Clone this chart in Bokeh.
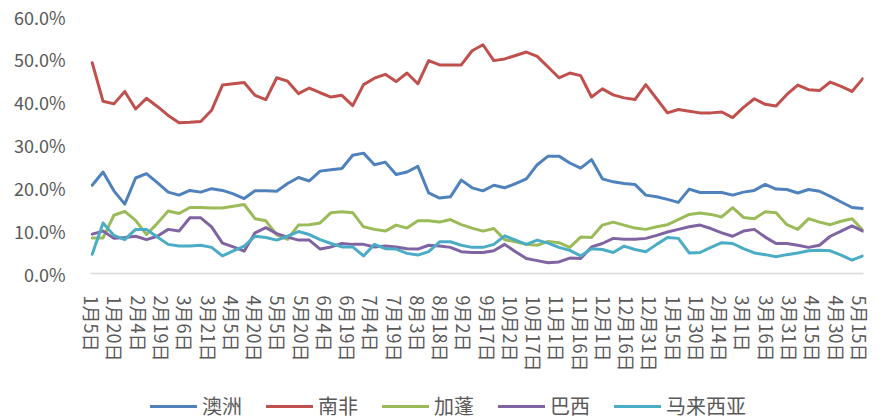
import pandas as pd
from bokeh.plotting import figure
from bokeh.layouts import column
from bokeh.models import Range1d, FixedTicker, Legend, LegendItem
from bokeh.embed import file_html
from bokeh.resources import INLINE

# ---------------- data ----------------
start_date = "2018-01-05"
n_points = 72          # weekly observations
tick_step_days = 15

tick_labels = ["1月5日", "1月20日", "2月4日", "2月19日", "3月6日", "3月21日", "4月5日",
               "4月20日", "5月5日", "5月20日", "6月4日", "6月19日", "7月4日", "7月19日",
               "8月3日", "8月18日", "9月2日", "9月17日", "10月2日", "10月17日", "11月1日",
               "11月16日", "12月1日", "12月16日", "12月31日", "1月15日", "1月30日",
               "2月14日", "3月1日", "3月16日", "3月31日", "4月15日", "4月30日", "5月15日"]

y_ticks = [0, 10, 20, 30, 40, 50, 60]
y_tick_labels = ["0.0%", "10.0%", "20.0%", "30.0%", "40.0%", "50.0%", "60.0%"]

names = ["澳洲", "南非", "加蓬", "巴西", "马来西亚"]
colors = ["#4F81BD", "#C0504D", "#9BBB59", "#8064A2", "#4BACC6"]

australia = [20.6, 23.7, 19.3, 16.2, 22.3, 23.3, 21.2, 19.0, 18.3, 19.4, 19.0, 19.8,
             19.4, 18.6, 17.5, 19.3, 19.3, 19.2, 21.0, 22.4, 21.6, 23.9, 24.2, 24.5,
             27.6, 28.1, 25.4, 26.0, 23.1, 23.7, 25.0, 18.8, 17.6, 17.9, 21.8, 20.0,
             19.3, 20.6, 20.0, 21.0, 22.1, 25.4, 27.4, 27.4, 25.8, 24.6, 26.6, 22.1,
             21.4, 21.0, 20.8, 18.3, 17.9, 17.3, 16.6, 19.7, 18.9, 18.9, 18.9, 18.3,
             19.0, 19.4, 20.8, 19.7, 19.6, 18.8, 19.6, 19.2, 18.0, 16.7, 15.4, 15.2]

south_africa = [49.2, 40.2, 39.6, 42.5, 38.4, 40.9, 39.0, 36.9, 35.2, 35.3, 35.5, 38.1,
                44.0, 44.3, 44.6, 41.6, 40.6, 45.7, 44.9, 42.0, 43.3, 42.2, 41.2, 41.6,
                39.2, 44.1, 45.6, 46.5, 44.8, 46.8, 44.3, 49.7, 48.7, 48.7, 48.7, 52.0,
                53.4, 49.7, 50.1, 50.9, 51.7, 50.7, 48.2, 45.7, 46.8, 46.2, 41.2, 43.1,
                41.7, 41.0, 40.6, 44.1, 40.8, 37.5, 38.3, 37.9, 37.5, 37.5, 37.7, 36.4,
                38.8, 40.8, 39.5, 39.1, 41.8, 44.0, 42.9, 42.7, 44.7, 43.7, 42.5, 45.5]

gabon = [8.3, 8.3, 13.6, 14.5, 12.4, 9.1, 11.7, 14.6, 14.0, 15.4, 15.4, 15.3,
         15.3, 15.7, 16.1, 12.8, 12.3, 9.0, 8.0, 11.3, 11.4, 11.8, 14.2, 14.4,
         14.2, 10.9, 10.3, 9.9, 11.3, 10.6, 12.3, 12.3, 12.0, 12.6, 11.4, 10.6,
         9.9, 10.5, 7.9, 7.4, 6.8, 6.6, 7.5, 7.2, 6.1, 8.5, 8.4, 11.3,
         12.0, 11.3, 10.6, 10.3, 10.9, 11.4, 12.6, 13.8, 14.1, 13.8, 13.2, 15.4,
         13.1, 12.8, 14.4, 14.2, 11.4, 10.3, 12.8, 12.0, 11.4, 12.2, 12.8, 10.1]

brazil = [9.2, 9.9, 8.2, 8.4, 8.7, 7.9, 8.7, 10.3, 9.9, 13.0, 13.0, 10.9,
          7.1, 6.2, 5.2, 9.5, 10.7, 9.3, 8.5, 7.8, 7.8, 5.7, 6.2, 7.0,
          6.8, 6.8, 6.2, 6.4, 6.2, 5.8, 5.7, 6.6, 6.4, 6.1, 5.1, 4.9,
          4.9, 5.3, 6.8, 5.1, 3.5, 3.0, 2.5, 2.7, 3.6, 3.5, 6.2, 7.0,
          8.2, 8.0, 8.0, 8.2, 8.9, 9.7, 10.3, 10.9, 11.3, 10.5, 9.5, 8.7,
          9.9, 10.3, 8.5, 7.0, 7.0, 6.6, 6.1, 6.6, 8.7, 9.9, 11.1, 9.9]

malaysia = [4.5, 11.8, 8.9, 7.9, 10.3, 10.3, 8.5, 6.8, 6.4, 6.4, 6.6, 6.1,
            4.1, 5.3, 6.4, 8.7, 8.4, 7.8, 8.7, 9.8, 9.1, 7.9, 7.0, 6.2,
            6.2, 4.1, 6.8, 5.8, 5.7, 4.7, 4.3, 5.1, 7.4, 7.4, 6.6, 6.1,
            6.1, 6.8, 8.8, 7.8, 6.8, 7.8, 7.1, 6.1, 5.4, 4.1, 5.8, 5.6,
            4.9, 6.4, 5.6, 5.1, 6.8, 8.4, 8.2, 4.8, 4.9, 6.1, 7.2, 7.0,
            5.8, 4.8, 4.4, 3.9, 4.4, 4.8, 5.3, 5.4, 5.3, 4.3, 3.1, 4.1]

series = [australia, south_africa, gabon, brazil, malaysia]

# ---------------- x positions (days since first observation) ----------------
t0 = pd.Timestamp(start_date)
dates = pd.date_range(start_date, periods=n_points, freq="7D")
x_days = [int((d - t0).days) for d in dates]
tick_dates = pd.date_range(start_date, periods=len(tick_labels), freq=f"{tick_step_days}D")
tick_days = [int((d - t0).days) for d in tick_dates]

FONT = "Noto Sans CJK SC"
TXT = "#595959"

# ---------------- main chart ----------------
p = figure(width=886, height=392, output_backend="svg", toolbar_location=None,
           x_range=Range1d(x_days[0] - 1.1, x_days[-1] + 0.4),
           y_range=Range1d(0, 60),
           min_border_left=90, min_border_right=23, min_border_top=16, min_border_bottom=119)
p.outline_line_color = None
p.background_fill_color = "white"
p.border_fill_color = "white"
p.xgrid.visible = False
p.ygrid.visible = False

for vals, c in zip(series, colors):
    p.line(x_days, vals, line_width=3, color=c, line_join="round", line_cap="round")

# x axis
xa = p.xaxis[0]
xa.ticker = FixedTicker(ticks=tick_days)
xa.major_label_overrides = {d: lab for d, lab in zip(tick_days, tick_labels)}
xa.major_label_orientation = "vertical"
xa.major_label_text_font = FONT
xa.major_label_text_font_size = "18px"
xa.major_label_text_color = TXT
xa.major_label_standoff = 16
xa.major_tick_line_color = None
xa.minor_tick_line_color = None
xa.axis_line_color = "#D9D9D9"
xa.axis_line_width = 1.5

# y axis
ya = p.yaxis[0]
ya.ticker = FixedTicker(ticks=y_ticks)
ya.major_label_overrides = {t: lab for t, lab in zip(y_ticks, y_tick_labels)}
ya.major_label_text_font = FONT
ya.major_label_text_font_size = "18px"
ya.major_label_text_color = TXT
ya.major_label_standoff = 19
ya.major_tick_line_color = None
ya.minor_tick_line_color = None
ya.axis_line_color = None

# ---------------- legend strip ----------------
q = figure(width=886, height=28, output_backend="svg", toolbar_location=None,
           x_range=Range1d(0, 1), y_range=Range1d(-2, -1),
           x_axis_location=None, y_axis_location=None,
           min_border_left=10, min_border_right=0, min_border_top=0, min_border_bottom=0)
q.outline_line_color = None
q.xgrid.visible = False
q.ygrid.visible = False
q.border_fill_color = "white"
q.background_fill_color = "white"

# legend keys: same series, drawn outside the strip's visible range
proxies = [q.line(x_days, vals, line_width=3, color=c, line_cap="round")
           for vals, c in zip(series, colors)]
legend = Legend(items=[LegendItem(label=n, renderers=[r]) for n, r in zip(names, proxies)],
                orientation="horizontal", location=(60, 0),
                glyph_width=47, glyph_height=20, label_standoff=5, spacing=24,
                padding=0, margin=0, border_line_color=None, background_fill_alpha=0,
                label_text_font=FONT, label_text_font_size="20px", label_text_color=TXT)
q.add_layout(legend)

layout = column(p, q, spacing=0)
open("out.html", "w").write(file_html(layout, INLINE))
